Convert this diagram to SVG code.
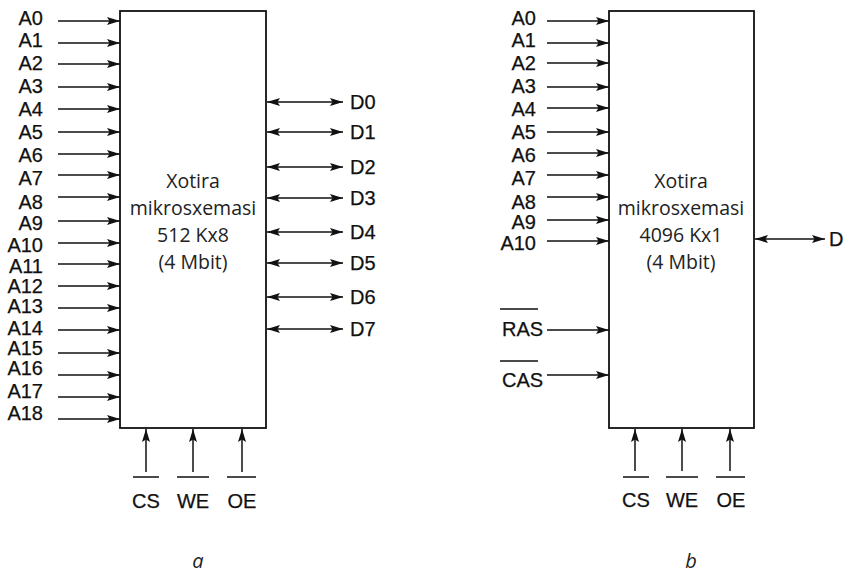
<svg xmlns="http://www.w3.org/2000/svg" width="851" height="576" viewBox="0 0 851 576">
<defs>
<marker id="ah" viewBox="0 0 13 8" refX="13" refY="4" markerWidth="13" markerHeight="8" orient="auto-start-reverse" markerUnits="userSpaceOnUse">
<path d="M0,0 L13,4 L0,8 L2.5,4 z" fill="#111"/>
</marker>
</defs>
<style>
.box{fill:#fff;stroke:#111;stroke-width:1.8}
.w{stroke:#111;stroke-width:1.5;fill:none}
.a{stroke:#111;stroke-width:1.5;fill:none;marker-end:url(#ah)}
.d{stroke:#111;stroke-width:1.5;fill:none;marker-start:url(#ah);marker-end:url(#ah)}
.lbl{font-family:"Liberation Sans",Arial,sans-serif;font-size:20px;fill:#111;stroke:#111;stroke-width:0.25}
.r{text-anchor:end}
.c{text-anchor:middle}
.chip{font-family:"Open Sans","Noto Sans",sans-serif;font-size:19.5px;fill:#222;text-anchor:middle}
.cap{font-family:"Open Sans","Noto Sans",sans-serif;font-size:20px;font-style:italic;fill:#222;text-anchor:middle}
</style>

<g id="chipA">
<rect class="box" x="120" y="11" width="146" height="417"/>
<text class="chip" x="193" y="188">Xotira</text>
<text class="chip" x="193" y="215">mikrosxemasi</text>
<text class="chip" x="193" y="242">512 Kx8</text>
<text class="chip" x="193" y="269">(4 Mbit)</text>
</g>

<g id="chipB">
<rect class="box" x="609" y="11" width="145" height="417"/>
<text class="chip" x="681" y="188">Xotira</text>
<text class="chip" x="681" y="215">mikrosxemasi</text>
<text class="chip" x="681" y="242">4096 Kx1</text>
<text class="chip" x="681" y="269">(4 Mbit)</text>
</g>

<g id="labelsA" class="lbl">
<text class="r" x="43" y="25">A0</text>
<text class="r" x="43" y="47">A1</text>
<text class="r" x="43" y="70">A2</text>
<text class="r" x="43" y="93">A3</text>
<text class="r" x="43" y="116">A4</text>
<text class="r" x="43" y="139">A5</text>
<text class="r" x="43" y="162">A6</text>
<text class="r" x="43" y="185">A7</text>
<text class="r" x="43" y="209">A8</text>
<text class="r" x="43" y="230">A9</text>
<text class="r" x="43" y="252">A10</text>
<text class="r" x="43" y="273">A11</text>
<text class="r" x="43" y="293">A12</text>
<text class="r" x="43" y="313">A13</text>
<text class="r" x="43" y="335">A14</text>
<text class="r" x="43" y="355">A15</text>
<text class="r" x="43" y="375">A16</text>
<text class="r" x="43" y="398">A17</text>
<text class="r" x="43" y="420">A18</text>
<text x="350" y="109">D0</text>
<text x="350" y="139">D1</text>
<text x="350" y="174">D2</text>
<text x="350" y="205">D3</text>
<text x="350" y="239">D4</text>
<text x="350" y="270">D5</text>
<text x="350" y="304">D6</text>
<text x="350" y="336">D7</text>
<text class="c" x="146" y="508">CS</text>
<text class="c" x="193" y="508">WE</text>
<text class="c" x="242" y="508">OE</text>
</g>

<g id="labelsB" class="lbl">
<text class="r" x="536" y="25">A0</text>
<text class="r" x="536" y="47">A1</text>
<text class="r" x="536" y="70">A2</text>
<text class="r" x="536" y="93">A3</text>
<text class="r" x="536" y="116">A4</text>
<text class="r" x="536" y="139">A5</text>
<text class="r" x="536" y="162">A6</text>
<text class="r" x="536" y="185">A7</text>
<text class="r" x="536" y="209">A8</text>
<text class="r" x="536" y="229">A9</text>
<text class="r" x="536" y="250">A10</text>
<text x="502" y="336">RAS</text>
<text x="502" y="387">CAS</text>
<text x="829" y="246">D</text>
<text class="c" x="636" y="507">CS</text>
<text class="c" x="682" y="507">WE</text>
<text class="c" x="731" y="507">OE</text>
</g>

<g id="connectors">
<path class="a" d="M58,21H120"/>
<path class="a" d="M58,43H120"/>
<path class="a" d="M58,64H120"/>
<path class="a" d="M58,87H120"/>
<path class="a" d="M58,109H120"/>
<path class="a" d="M58,132H120"/>
<path class="a" d="M58,154H120"/>
<path class="a" d="M58,175H120"/>
<path class="a" d="M58,197H120"/>
<path class="a" d="M58,221H120"/>
<path class="a" d="M58,243H120"/>
<path class="a" d="M58,264H120"/>
<path class="a" d="M58,286H120"/>
<path class="a" d="M58,308H120"/>
<path class="a" d="M58,330H120"/>
<path class="a" d="M58,353H120"/>
<path class="a" d="M58,375H120"/>
<path class="a" d="M58,397H120"/>
<path class="a" d="M58,419H120"/>
<path class="d" d="M267,102H343"/>
<path class="d" d="M267,132H343"/>
<path class="d" d="M267,167H343"/>
<path class="d" d="M267,198H343"/>
<path class="d" d="M267,232H343"/>
<path class="d" d="M267,263H343"/>
<path class="d" d="M267,297H343"/>
<path class="d" d="M267,329H343"/>
<path class="a" d="M146,472V429"/>
<path class="a" d="M193,472V429"/>
<path class="a" d="M242,472V429"/>
<path class="w" d="M133,477H159M177,477H209M227,477H256"/>

<path class="a" d="M547,21H609"/>
<path class="a" d="M547,43H609"/>
<path class="a" d="M547,63H609"/>
<path class="a" d="M547,87H609"/>
<path class="a" d="M547,108H609"/>
<path class="a" d="M547,132H609"/>
<path class="a" d="M547,153H609"/>
<path class="a" d="M547,175H609"/>
<path class="a" d="M547,197H609"/>
<path class="a" d="M547,220H609"/>
<path class="a" d="M547,241H609"/>
<path class="a" d="M547,330H609"/>
<path class="a" d="M547,375H609"/>
<path class="w" d="M500,309H538M500,361H538"/>
<path class="d" d="M755,239H825"/>
<path class="a" d="M635,471V429"/>
<path class="a" d="M682,471V429"/>
<path class="a" d="M730,471V429"/>
<path class="w" d="M623,477H649M666,477H698M716,477H745"/>
</g>

<g id="captions">
<text class="cap" x="198" y="568">a</text>
<text class="cap" x="691" y="568">b</text>
</g>
</svg>
